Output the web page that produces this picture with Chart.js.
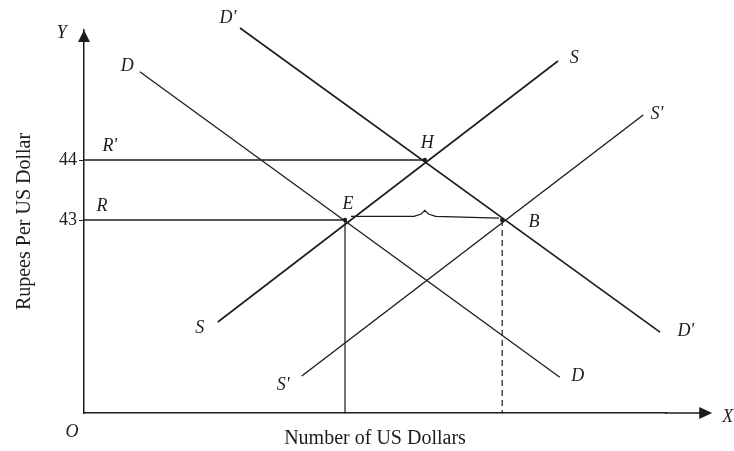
<!DOCTYPE html>
<html>
<head>
<meta charset="utf-8">
<script src="https://cdn.jsdelivr.net/npm/chart.js@4.4.1/dist/chart.umd.min.js"></script>
<style>
  html, body { margin: 0; padding: 0; background: #fff; }
  #wrap { width: 734px; height: 451px; }
</style>
</head>
<body>
<div id="wrap"><canvas id="fx_chart"></canvas></div>
<script>
// exchange-rate diagram, x in "number of dollars" units, y in rupees per dollar
const yTicks = [43, 44];
const demandD = [{x: 0.93, y: 45.47}, {x: 7.93, y: 40.38}];
const demandD2 = [{x: 2.6, y: 46.2}, {x: 9.6, y: 41.13}];
const supplyS = [{x: 2.23, y: 41.3}, {x: 7.9, y: 45.65}];
const supplyS2 = [{x: 3.63, y: 40.4}, {x: 9.32, y: 44.75}];
const rateLine44 = [{x: 0, y: 44}, {x: 5.68, y: 44}];
const rateLine43 = [{x: 0, y: 43}, {x: 4.35, y: 43}];
const braceEB = [{x: 4.45, y: 43.06}, {x: 5.5, y: 43.06}, {x: 5.62, y: 43.1}, {x: 5.68, y: 43.16},
                 {x: 5.74, y: 43.1}, {x: 5.86, y: 43.06}, {x: 6.92, y: 43.03}];
const dropE = [{x: 4.35, y: 43}, {x: 4.35, y: 39.78}];
const dropB = [{x: 6.97, y: 43}, {x: 6.97, y: 39.78}];
const equilibria = [{x: 4.35, y: 43}, {x: 5.68, y: 44}, {x: 6.97, y: 43}];

const pointNames = ['D', "D'", 'S', "S'", "R'", 'R', 'H', 'E', 'B', 'S', "S'", "D'", 'D', 'Y', 'X', 'O'];
const pointX = [0.72, 2.4, 8.17, 9.55, 0.43, 0.3, 5.72, 4.4, 7.5, 1.93, 3.32, 10.03, 8.23, -0.37, 10.73, -0.2];
const pointY = [45.57, 46.37, 45.7, 44.77, 44.23, 43.23, 44.28, 43.27, 42.97, 41.2, 40.25, 41.15, 40.4, 46.12, 39.72, 39.47];

const serif = '"Liberation Serif", "DejaVu Serif", serif';
const ink = '#1c1c1c';

function seg(data, width, dash) {
    return {
        data: data,
        showLine: true,
        borderColor: ink,
        borderWidth: width,
        borderDash: dash || [],
        pointRadius: 0,
        clip: false
    };
}

const diagramExtras = {
    id: 'diagramExtras',
    afterDatasetsDraw(chart) {
        const {ctx, chartArea} = chart;
        const xs = chart.scales.x, ys = chart.scales.y;
        ctx.save();
        ctx.fillStyle = ink;
        ctx.strokeStyle = ink;
        // y arrow
        ctx.beginPath();
        ctx.moveTo(chartArea.left, chartArea.top);
        ctx.lineTo(chartArea.left - 6, chartArea.top + 12);
        ctx.lineTo(chartArea.left + 6, chartArea.top + 12);
        ctx.closePath();
        ctx.fill();
        // x axis extension + arrow
        ctx.lineWidth = 1.5;
        ctx.beginPath();
        ctx.moveTo(chartArea.right - 1, chartArea.bottom);
        ctx.lineTo(xs.getPixelForValue(10.27), chartArea.bottom);
        ctx.stroke();
        const tip = xs.getPixelForValue(10.47);
        ctx.beginPath();
        ctx.moveTo(tip, chartArea.bottom);
        ctx.lineTo(tip - 13, chartArea.bottom - 6);
        ctx.lineTo(tip - 13, chartArea.bottom + 6);
        ctx.closePath();
        ctx.fill();
        // curve labels
        ctx.font = 'italic 18px ' + serif;
        ctx.textAlign = 'center';
        ctx.textBaseline = 'middle';
        pointNames.forEach(function (name, i) {
            ctx.fillText(name, xs.getPixelForValue(pointX[i]), ys.getPixelForValue(pointY[i]));
        });
        ctx.restore();
    }
};

new Chart(document.getElementById('fx_chart').getContext('2d'), {
    type: 'scatter',
    data: {
        datasets: [
            seg(demandD, 1.3),
            seg(demandD2, 1.6),
            seg(supplyS, 1.6),
            seg(supplyS2, 1.4),
            seg(rateLine44, 1.3),
            seg(rateLine43, 1.3),
            seg(braceEB, 1.2),
            seg(dropE, 1.2),
            seg(dropB, 1.2, [6, 4]),
            {
                data: equilibria,
                pointRadius: 2.2,
                pointBackgroundColor: ink,
                pointBorderWidth: 0,
                showLine: false
            }
        ]
    },
    options: {
        responsive: true,
        maintainAspectRatio: false,
        animation: false,
        layout: { padding: { left: 0, right: 68, top: 30, bottom: 0 } },
        plugins: {
            legend: { display: false },
            tooltip: { enabled: false }
        },
        scales: {
            x: {
                type: 'linear',
                min: 0,
                max: 9.7,
                afterBuildTicks: function (scale) { scale.ticks = []; },
                afterFit: function (scale) { scale.height = 38; },
                grid: { display: false },
                border: { display: true, color: ink, width: 1.5 },
                ticks: { display: false },
                title: {
                    display: true,
                    text: 'Number of US Dollars',
                    color: ink,
                    font: { family: serif, size: 20 },
                    padding: { top: 0, bottom: 0 }
                }
            },
            y: {
                type: 'linear',
                min: 39.7833,
                max: 46.1667,
                afterBuildTicks: function (scale) {
                    scale.ticks = yTicks.map(function (v) { return {value: v}; });
                },
                afterFit: function (scale) { scale.width = 84; },
                grid: { drawOnChartArea: false, tickLength: 5, color: ink },
                border: { display: true, color: ink, width: 1.5 },
                ticks: {
                    color: ink,
                    padding: 2,
                    font: { family: serif, size: 18 }
                },
                title: {
                    display: true,
                    text: 'Rupees Per US Dollar',
                    color: ink,
                    font: { family: serif, size: 20 },
                    padding: { top: 13, bottom: 0 }
                }
            }
        }
    },
    plugins: [diagramExtras]
});
</script>
</body>
</html>
